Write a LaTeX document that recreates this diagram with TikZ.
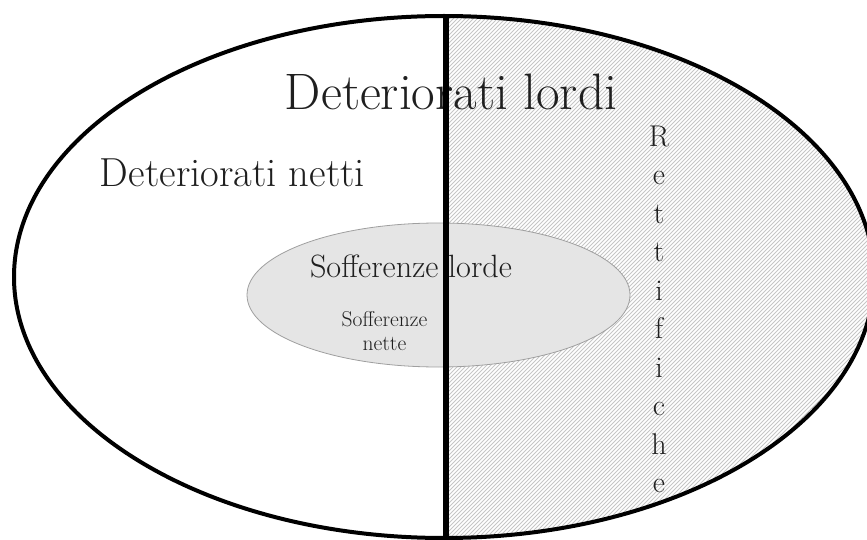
\documentclass[tikz,border=0pt]{standalone}
\usepackage{graphicx}
\tikzset{
  outerell/.style={draw=black, line width=4pt},
  innerell/.style={draw=gray!75, fill=gray!20, line width=0.8pt},
  hatchline/.style={draw=gray!45, line width=1pt},
  divider/.style={draw=black, line width=5.5pt},
  lbl/.style={inner sep=0pt, text=black!88},
}
\begin{document}
\begin{tikzpicture}[x=1pt,y=-1pt]
\useasboundingbox (0,0) rectangle (867,540);
\clip (0,0) rectangle (867,540);
% hatched right half
\begin{scope}
  \clip (444,277) ellipse [x radius=430pt, y radius=261pt];
  \clip (446,0) rectangle (900,560);
  \foreach \k in {-560,-556,...,900} {
    \draw[hatchline] (\k,560) -- (\k+560,0);
  }
\end{scope}
% inner ellipse
\draw[innerell] (438.5,295) ellipse [x radius=191.5pt, y radius=72pt];
% outer ellipse
\draw[outerell] (444,277) ellipse [x radius=430pt, y radius=261pt];
% texts
\node[lbl, anchor=base, font=\fontsize{46.5}{50}\selectfont] (lordi) at (451,110) {\resizebox{332pt}{!}{Deteriorati lordi}};
\node[lbl, anchor=base, font=\fontsize{37}{40}\selectfont] (netti) at (232.5,187) {\resizebox{265pt}{!}{Deteriorati netti}};
\node[lbl, anchor=base, font=\fontsize{29.3}{32}\selectfont] (soffl) at (411,277) {\resizebox{202pt}{!}{Sofferenze lorde}};
\node[lbl, anchor=north, align=center, font=\fontsize{21.5}{24}\selectfont] (soffn) at (384.5,311.5) {Sofferenze\\nette};
\node[lbl, anchor=north, align=center, font=\fontsize{30}{38.5}\selectfont] (rett) at (659,125.5) {R\\e\\t\\t\\i\\f\\i\\c\\h\\e};
% divider
\coordinate (dtop) at (446,15);
\coordinate (dbot) at (446,540);
\draw[divider] (dtop) -- (dbot);
\end{tikzpicture}
\end{document}
